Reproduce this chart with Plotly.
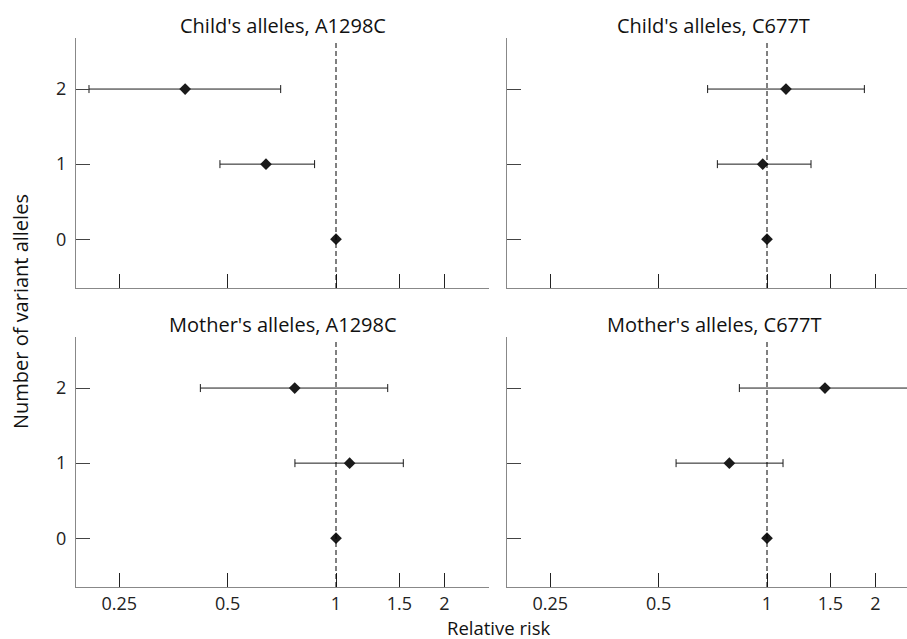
import plotly.graph_objects as go

W, H = 907, 639

panel_titles = ["Child's alleles, A1298C", "Child's alleles, C677T",
                "Mother's alleles, A1298C", "Mother's alleles, C677T"]
alleles = [0, 1, 2]
# relative risk, lower CI, upper CI for 0,1,2 variant alleles
rr = [[1.0, 0.639, 0.381],
      [1.0, 0.973, 1.129],
      [1.0, 1.091, 0.768],
      [1.0, 0.786, 1.449]]
lo = [[1.0, 0.476, 0.206],
      [1.0, 0.728, 0.684],
      [1.0, 0.769, 0.420],
      [1.0, 0.559, 0.838]]
hi = [[1.0, 0.872, 0.702],
      [1.0, 1.325, 1.864],
      [1.0, 1.538, 1.392],
      [1.0, 1.108, 2.700]]
x_tickvals = [0.25, 0.5, 1, 1.5, 2]
x_ticktext = ["0.25", "0.5", "1", "1.5", "2"]
y_tickvals = [0, 1, 2]
y_ticktext = ["0", "1", "2"]

FONT = "Open Sans"
AXC = "#888888"
TICKC = "#222222"

# pixel geometry (window pixels)
px_left = [(76, 489), (507, 907)]
px_top = [(38, 288), (337, 587)]
one_px = [336, 767]
PPD = 360.0  # pixels per decade
ymin, ymax = -0.65, 2.68


def fx(p):
    return p / W


def fy(p):
    return 1 - p / H


fig = go.Figure()
for i in range(4):
    r, c = divmod(i, 2)
    n = i + 1
    xa = "xaxis" if n == 1 else f"xaxis{n}"
    ya = "yaxis" if n == 1 else f"yaxis{n}"
    xr = "x" if n == 1 else f"x{n}"
    yr = "y" if n == 1 else f"y{n}"
    x0p, x1p = px_left[c]
    y0p, y1p = px_top[r]
    lmin = (x0p - one_px[c]) / PPD
    lmax = (x1p - one_px[c]) / PPD
    e_plus = [h - v for h, v in zip(hi[i], rr[i])]
    e_minus = [v - l for v, l in zip(rr[i], lo[i])]
    fig.add_trace(go.Scatter(
        x=rr[i], y=alleles, mode="markers", xaxis=xr, yaxis=yr,
        marker=dict(symbol="diamond", size=9, color="#1a1a1a"),
        error_x=dict(type="data", symmetric=False, array=e_plus,
                     arrayminus=e_minus, thickness=1, width=4,
                     color="#1a1a1a"),
        showlegend=False, hoverinfo="skip"))
    fig.layout[xa] = dict(
        type="log", range=[lmin, lmax],
        domain=[fx(x0p), min(1.0, fx(x1p))], anchor=yr,
        showgrid=False, zeroline=False, showline=True, linecolor=AXC,
        linewidth=1, ticks="inside", ticklen=14, tickcolor=TICKC,
        tickwidth=1,
        tickvals=[10 ** (lmin + 0.0005)] + x_tickvals,
        ticktext=[""] + x_ticktext,
        showticklabels=(r == 1),
        tickfont=dict(family=FONT, size=18, color="#222"))
    fig.layout[ya] = dict(
        range=[ymin, ymax], domain=[fy(y1p), fy(y0p)], anchor=xr,
        showgrid=False, zeroline=False, showline=True, linecolor=AXC,
        linewidth=1, ticks="inside", ticklen=14, tickcolor="#444",
        tickwidth=1, ticklabelstandoff=5,
        tickvals=[ymin + 0.002] + y_tickvals, ticktext=[""] + y_ticktext,
        showticklabels=(c == 0),
        tickfont=dict(family=FONT, size=18, color="#222"))
    fig.add_shape(type="line", xref=xr, yref=f"{yr} domain",
                  x0=1, x1=1, y0=0, y1=0.99,
                  line=dict(color="#000", width=1, dash="5px,3px"))
    cx = [(76 + 489) / 2, (507 + 920) / 2][c]
    fig.add_annotation(text=panel_titles[i], xref="paper", yref="paper",
                       x=fx(cx), y=fy(y0p - 13), showarrow=False,
                       xanchor="center", yanchor="middle",
                       font=dict(family=FONT, size=20, color="#111"))

fig.add_annotation(text="Number of variant alleles", xref="paper",
                   yref="paper", x=fx(21), y=fy(312), textangle=-90,
                   showarrow=False, xanchor="center", yanchor="middle",
                   font=dict(family=FONT, size=20, color="#111"))
fig.add_annotation(text="Relative risk", xref="paper", yref="paper",
                   x=fx(499), y=fy(627), showarrow=False,
                   xanchor="center", yanchor="middle",
                   font=dict(family=FONT, size=18.5, color="#111"))

fig.update_layout(width=W, height=H, margin=dict(l=0, r=0, t=0, b=0),
                  plot_bgcolor="white", paper_bgcolor="white")
fig.write_html("out.html", config={"displayModeBar": False},
               post_script="document.body.style.margin='0';"
                           "document.body.style.overflow='hidden';")
